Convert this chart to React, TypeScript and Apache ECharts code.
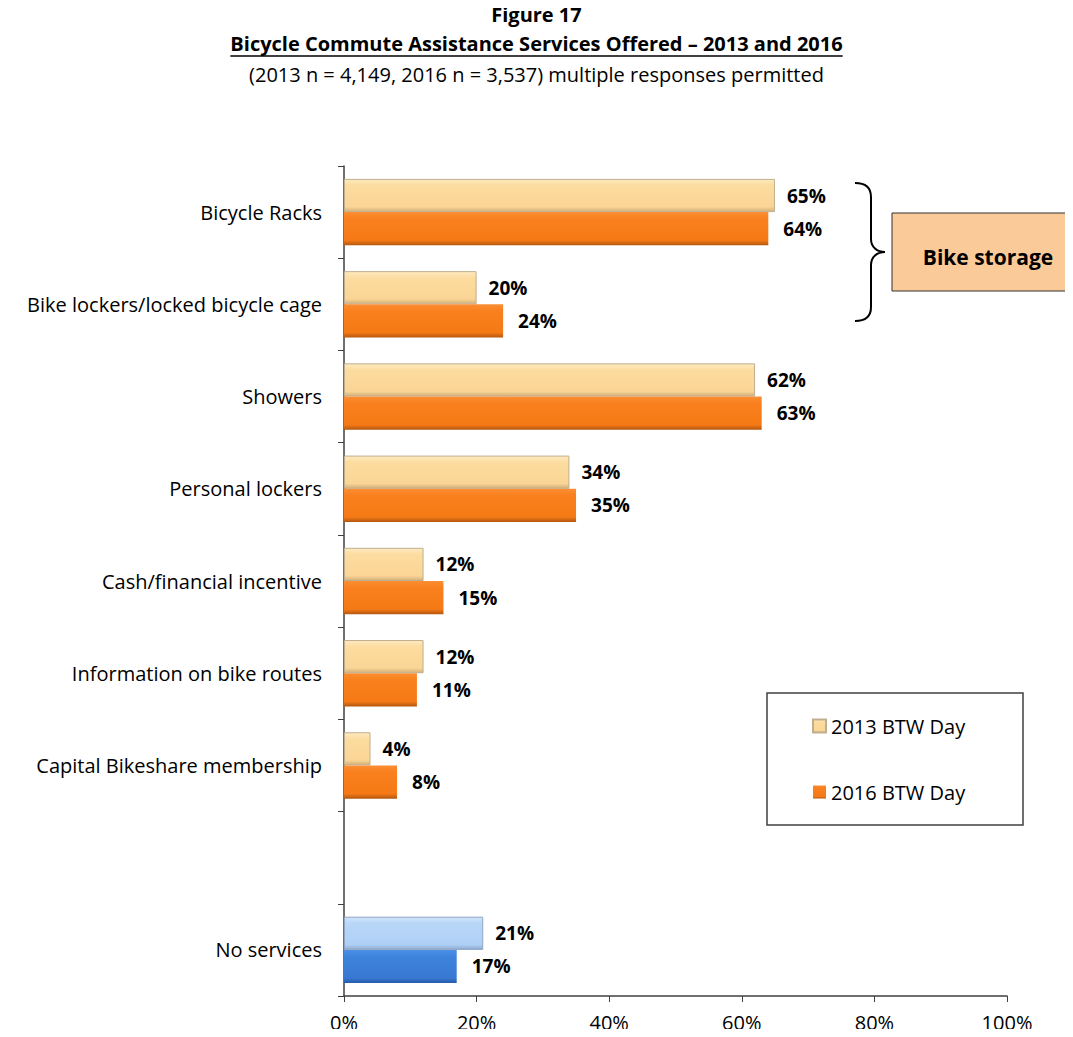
import React, { useEffect, useRef } from "react";
import * as echarts from "echarts";

const categories = [
  "Bicycle Racks",
  "Bike lockers/locked bicycle cage",
  "Showers",
  "Personal lockers",
  "Cash/financial incentive",
  "Information on bike routes",
  "Capital Bikeshare membership",
  "",
  "No services",
];
const values2013 = [65, 20, 62, 34, 12, 12, 4, null, 21];
const values2016 = [64, 24, 63, 35, 15, 11, 8, null, 17];
const xTicks = [0, 20, 40, 60, 80, 100];
const seriesNames = ["2013 BTW Day", "2016 BTW Day"];
const titleText = "Figure 17";
const subtitleText = "Bicycle Commute Assistance Services Offered \u2013 2013 and 2016";
const noteText = "(2013 n = 4,149, 2016 n = 3,537) multiple responses permitted";
const calloutText = "Bike storage";

const FONT = "'Open Sans', 'Noto Sans', sans-serif";

const grad = (stops: [number, string][]) =>
  new echarts.graphic.LinearGradient(
    0, 0, 0, 1,
    stops.map(([offset, color]) => ({ offset, color }))
  );

const light = () => grad([[0, "#FEE9BF"], [0.2, "#FCDC9F"], [0.85, "#FAD595"], [1, "#D2B07A"]]);
const dark = () => grad([[0, "#FA8E34"], [0.2, "#F9801D"], [0.85, "#F57A16"], [1, "#B4570F"]]);
const lightBlue = () => grad([[0, "#CFE3FA"], [0.2, "#B8D6F8"], [0.85, "#AFD0F5"], [1, "#8FAAD0"]]);
const darkBlue = () => grad([[0, "#4D90E6"], [0.2, "#3D83DC"], [0.85, "#3878D2"], [1, "#245AA8"]]);

export default function App() {
  const ref = useRef<HTMLDivElement>(null);
  useEffect(() => {
    if (!ref.current) return;
    const chart = echarts.init(ref.current, undefined, { renderer: "svg" });

    const canvas = document.createElement("canvas");
    const ctx = canvas.getContext("2d")!;
    ctx.font = `bold 20px ${FONT}`;
    const subW = ctx.measureText(subtitleText).width;

    echarts.graphic.registerShape(
      "brace",
      echarts.graphic.extendPath(
        "M0,0 C10,0 16,4 16,14 L16,56 C16,64 22,69 30,69 C22,69 16,74 16,82 L16,124 C16,134 10,138 0,138",
        {}
      )
    );

    const mk = (vals: (number | null)[], normal: () => any, special: () => any, border: string, specialBorder: string) =>
      vals.map((v, i) =>
        i === vals.length - 1
          ? { value: v, itemStyle: { color: special(), borderColor: specialBorder } }
          : { value: v, itemStyle: { color: normal(), borderColor: border } }
      );

    const labelBase = {
      show: true,
      position: "right",
      formatter: "{c}%",
      fontFamily: FONT,
      fontWeight: "bold",
      fontSize: 19,
      color: "#000",
    };

    chart.setOption({
      animation: false,
      textStyle: { fontFamily: FONT },
      grid: { left: 344, right: 66, top: 166, bottom: 41, containLabel: false },
      legend: {
        orient: "vertical",
        left: 812,
        top: 716,
        padding: 0,
        itemWidth: 13,
        itemHeight: 13,
        itemGap: 46,
        icon: "rect",
        textStyle: { fontFamily: FONT, fontSize: 20, color: "#000" },
        data: seriesNames,
      },
      xAxis: {
        type: "value",
        min: 0,
        max: 100,
        interval: 20,
        axisLine: { show: true, lineStyle: { color: "#404040", width: 1.5 } },
        axisTick: { show: true, length: 6, lineStyle: { color: "#404040" } },
        splitLine: { show: false },
        axisLabel: {
          formatter: (v: number) => (xTicks.includes(v) ? `${v}%` : ""),
          fontFamily: FONT,
          fontSize: 20,
          color: "#000",
          margin: 16,
        },
      },
      yAxis: {
        type: "category",
        inverse: true,
        data: categories,
        axisLine: { show: true, lineStyle: { color: "#404040", width: 1.5 } },
        axisTick: { show: true, length: 6, lineStyle: { color: "#404040" } },
        axisLabel: { fontFamily: FONT, fontSize: 20, color: "#000", margin: 22 },
      },
      series: [
        {
          name: seriesNames[0],
          type: "bar",
          barGap: "0%",
          barCategoryGap: "28%",
          itemStyle: { color: light(), borderColor: "#BFAF90", borderWidth: 1 },
          data: mk(values2013, light, lightBlue, "#BFAF90", "#8FA6C4"),
          label: { ...labelBase, distance: 12 },
        },
        {
          name: seriesNames[1],
          type: "bar",
          barGap: "0%",
          barCategoryGap: "28%",
          itemStyle: { color: dark(), borderColor: "#C0601A", borderWidth: 0 },
          data: mk(values2016, dark, darkBlue, "#C0601A", "#2A5FA8"),
          label: { ...labelBase, distance: 15 },
        },
      ],
      graphic: [
        {
          type: "text",
          x: 536.5,
          y: 14,
          style: {
            text: titleText,
            font: `bold 20px ${FONT}`,
            fill: "#000",
            align: "center",
            verticalAlign: "middle",
          },
        },
        {
          type: "text",
          x: 536.5,
          y: 43,
          style: {
            text: subtitleText,
            font: `bold 20px ${FONT}`,
            fill: "#000",
            align: "center",
            verticalAlign: "middle",
          },
        },
        {
          type: "line",
          shape: { x1: 536.5 - subW / 2, y1: 56, x2: 536.5 + subW / 2, y2: 56 },
          style: { stroke: "#000", lineWidth: 1.3 },
        },
        {
          type: "text",
          x: 536.5,
          y: 74,
          style: {
            text: noteText,
            font: `20px ${FONT}`,
            fill: "#000",
            align: "center",
            verticalAlign: "middle",
          },
        },
        {
          type: "brace",
          x: 855,
          y: 183,
          style: { stroke: "#000", lineWidth: 2, fill: "none" },
        },
        {
          type: "rect",
          shape: { x: 892, y: 213, width: 180, height: 78 },
          style: { fill: "#FBCA99", stroke: "#333", lineWidth: 1 },
        },
        {
          type: "text",
          x: 988,
          y: 257,
          style: {
            text: calloutText,
            font: `bold 21px ${FONT}`,
            fill: "#000",
            align: "center",
            verticalAlign: "middle",
          },
        },
        {
          type: "rect",
          shape: { x: 767, y: 693, width: 256, height: 132 },
          style: { fill: "none", stroke: "#404040", lineWidth: 1.5 },
        },
      ],
    });
    return () => chart.dispose();
  }, []);
  return <div ref={ref} style={{ width: 1073, height: 1037, margin: -8, background: "#fff" }} />;
}
